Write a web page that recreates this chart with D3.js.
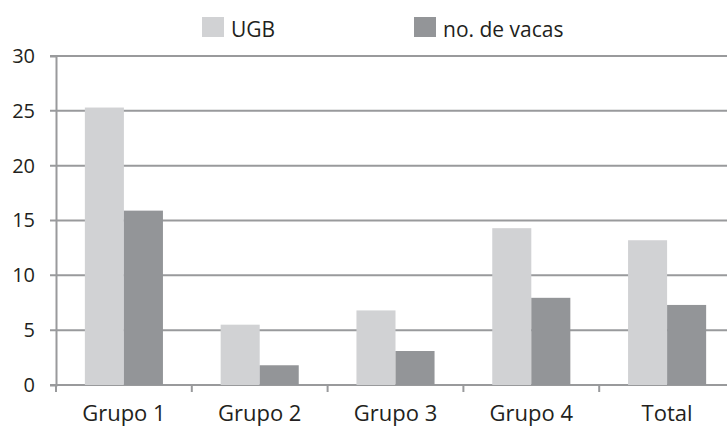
<!DOCTYPE html>
<html>
<head>
    <meta charset="utf-8">
    <title>UGB e vacas</title>
    <script src="https://d3js.org/d3.v7.min.js"></script>
    <style>
        body { margin: 0; background: #fff; }
        text { font-family: "Open Sans", sans-serif; fill: #231f20; }
    </style>
</head>
<body>
<div id="chart"></div>
<script type="text/javascript">
    // dados
    let categorias = ["Grupo 1", "Grupo 2", "Grupo 3", "Grupo 4", "Total"];
    let series = ["UGB", "no. de vacas"];
    let ugb = [25.3, 5.5, 6.8, 14.3, 13.2];
    let vacas = [15.9, 1.8, 3.1, 7.95, 7.3];
    let yTicks = [0, 5, 10, 15, 20, 25, 30];
    let cores = ["#d1d2d4", "#939598"];

    let W = 727, H = 427;
    let margin = {top: 56, right: -8, bottom: 42, left: 56};
    let w = W - margin.left - margin.right;
    let h = H - margin.top - margin.bottom;

    let svg = d3.select("#chart")
        .append("svg")
            .attr("width", W)
            .attr("height", H);

    let g = svg.append("g")
        .attr("transform", "translate(" + margin.left + "," + margin.top + ")");

    let x0 = d3.scaleBand()
        .domain(categorias)
        .range([0, w])
        .paddingInner(0.425)
        .paddingOuter(0.2125);

    let x1 = d3.scaleBand()
        .domain(series)
        .range([0, x0.bandwidth()]);

    let y = d3.scaleLinear()
        .domain([0, 30])
        .range([h, 0]);

    // grade horizontal
    g.selectAll(".grid")
        .data(yTicks)
        .enter()
        .append("line")
        .attr("class", "grid")
        .attr("x1", -6)
        .attr("x2", W - margin.left)
        .attr("y1", d => y(d))
        .attr("y2", d => y(d))
        .attr("stroke", "#999a9c")
        .attr("stroke-width", 2);

    // barras
    let dados = categorias.map((c, i) => ({cat: c, valores: [ugb[i], vacas[i]]}));

    let grupos = g.selectAll(".grupo")
        .data(dados)
        .enter()
        .append("g")
        .attr("transform", d => "translate(" + x0(d.cat) + ",0)");

    grupos.selectAll("rect")
        .data(d => d.valores.map((v, j) => ({serie: series[j], v: v, cor: cores[j]})))
        .enter()
        .append("rect")
        .attr("x", d => x1(d.serie))
        .attr("width", x1.bandwidth())
        .attr("y", d => y(d.v))
        .attr("height", d => h - y(d.v))
        .attr("fill", d => d.cor);

    // eixo y
    let yAxis = d3.axisLeft(y)
        .tickValues(yTicks)
        .tickSize(6)
        .tickPadding(15);

    let gy = g.append("g").call(yAxis);
    gy.select(".domain").attr("stroke", "#999a9c").attr("stroke-width", 2);
    gy.selectAll(".tick line").remove();
    gy.selectAll("text")
        .style("font-size", "20px")
        .style("font-family", "Open Sans, sans-serif")
        .attr("fill", "#231f20");

    // eixo x
    let xTicks = categorias.map(c => x0(c) - x0.step() * x0.paddingInner() / 2);
    g.selectAll(".xtick")
        .data(xTicks.concat([x0(categorias[4]) + x0.bandwidth() + x0.step() * x0.paddingInner() / 2]))
        .enter()
        .append("line")
        .attr("x1", d => d)
        .attr("x2", d => d)
        .attr("y1", h)
        .attr("y2", h + 7)
        .attr("stroke", "#999a9c")
        .attr("stroke-width", 2);

    g.selectAll(".xlabel")
        .data(categorias)
        .enter()
        .append("text")
        .attr("x", d => x0(d) + x0.bandwidth() / 2)
        .attr("y", h + 36)
        .attr("text-anchor", "middle")
        .style("font-size", "22px")
        .text(d => d);

    // legenda
    let legX = [202, 414];
    let leg = svg.selectAll(".leg")
        .data(series)
        .enter()
        .append("g")
        .attr("transform", (d, i) => "translate(" + legX[i] + ",17)");

    leg.append("rect")
        .attr("width", 22)
        .attr("height", 20)
        .attr("fill", (d, i) => cores[i]);

    leg.append("text")
        .attr("x", 29)
        .attr("y", 20)
        .style("font-size", "21px")
        .text(d => d);
</script>
</body>
</html>
